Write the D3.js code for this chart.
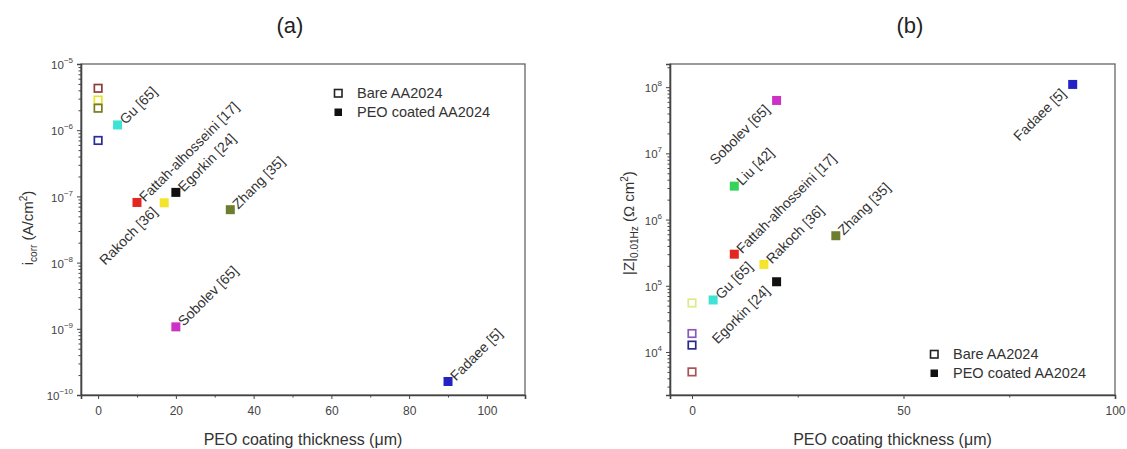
<!DOCTYPE html>
<html><head><meta charset="utf-8">
<script src="https://cdn.jsdelivr.net/npm/d3@7"></script>
<style>
body{margin:0;background:#fff;}
text{font-family:"Liberation Sans",Arial,sans-serif;}
</style></head>
<body><svg id="c" width="1127" height="449"></svg>
<script>
// ---- Data (a): corrosion current density ----
const aLabels = ["Gu [65]","Fattah-alhosseini [17]","Rakoch [36]","Egorkin [24]","Zhang [35]","Sobolev [65]","Fadaee [5]"];
const aThickness = [5, 10, 17, 20, 34, 20, 90];
const aIcorr = [1.2e-6, 8.1e-8, 8e-8, 1.15e-7, 6.3e-8, 1.07e-9, 1.6e-10];
const aBareIcorr = [4.3e-6, 2.85e-6, 2.15e-6, 7e-7];
const aYTicks = [1e-10, 1e-9, 1e-8, 1e-7, 1e-6, 1e-5];
const aXTicks = [0, 20, 40, 60, 80, 100];

// ---- Data (b): low-frequency impedance modulus ----
const bLabels = ["Sobolev [65]","Liu [42]","Fattah-alhosseini [17]","Gu [65]","Rakoch [36]","Egorkin [24]","Zhang [35]","Fadaee [5]"];
const bThickness = [20, 10, 10, 5, 17, 20, 34, 90];
const bImpedance = [6.3e7, 3.2e6, 3e5, 6.1e4, 2.1e5, 1.15e5, 5.7e5, 1.1e8];
const bBareImpedance = [5.5e4, 1.9e4, 1.27e4, 5e3];
const bYTicks = [1e4, 1e5, 1e6, 1e7, 1e8];
const bXTicks = [0, 50, 100];

const legendNames = ["Bare AA2024", "PEO coated AA2024"];

// ---- styles ----
const colorOf = {
  "Gu [65]":"#3ee3d6", "Fattah-alhosseini [17]":"#e3261f", "Rakoch [36]":"#f4e42c",
  "Egorkin [24]":"#111111", "Zhang [35]":"#6e7e30", "Sobolev [65]":"#cc33c4",
  "Fadaee [5]":"#2323c4", "Liu [42]":"#35d35c"
};
const aBareColors = ["#8e3b3b","#e4e430","#7a7a22","#2b2b9a"];
const bBareColors = ["#dfe98a","#8b58b8","#2a2a8c","#a85252"];
// label side: "after" = text starts at point going up-right, "before" = text ends near point
const aSide = ["after","after","before","after","after","after","after"];
const bSide = ["before","after","after","after","after","before","after","before"];

const svg = d3.select("#c");
const axisCol = "#444";

function supText(sel, base, exp){
  sel.text(base);
  sel.append("tspan").attr("dy", -6).attr("font-size", 8).text(exp);
}

function drawPanel(cfg){
  const g = svg.append("g");
  const x = d3.scaleLinear().domain(cfg.xDomain).range([cfg.left, cfg.right]);
  const y = d3.scaleLog().domain(cfg.yDomain).range([cfg.bottom, cfg.top]);

  // frame
  g.append("rect").attr("x", cfg.left).attr("y", cfg.top)
    .attr("width", cfg.right-cfg.left).attr("height", cfg.bottom-cfg.top)
    .attr("fill","none").attr("stroke", "#666").attr("stroke-width", 1.3);

  // x axis
  const xAxis = d3.axisBottom(x).tickValues(cfg.xTicks).tickSize(4).tickFormat(d3.format("d"));
  const xa = g.append("g").attr("transform", `translate(0,${cfg.bottom})`).call(xAxis);
  xa.select(".domain").attr("stroke", axisCol).attr("stroke-width", 1.6);
  xa.selectAll(".tick line").attr("stroke", axisCol);
  xa.selectAll(".tick text").attr("font-size", 12).attr("fill","#444").attr("dy","1.1em")
    .attr("font-family","Liberation Sans, Arial, sans-serif");
  const xMinor = d3.axisBottom(x).tickValues(cfg.xMinor).tickSize(2.5).tickFormat("");
  const xm = g.append("g").attr("transform", `translate(0,${cfg.bottom})`).call(xMinor);
  xm.select(".domain").remove();
  xm.selectAll(".tick line").attr("stroke", axisCol);

  // y axis
  const yAxis = d3.axisLeft(y).tickValues(cfg.yTicks).tickSize(4).tickFormat("");
  const ya = g.append("g").attr("transform", `translate(${cfg.left},0)`).call(yAxis);
  ya.select(".domain").attr("stroke", axisCol).attr("stroke-width", 1.6);
  ya.selectAll(".tick line").attr("stroke", axisCol);
  ya.selectAll(".tick").each(function(d){
    const t = d3.select(this).append("text").attr("x", -8).attr("dy","0.4em")
      .attr("text-anchor","end").attr("font-size", 11.5).attr("fill","#444");
    supText(t, "10", String(Math.round(Math.log10(d))).replace("-", "\u2212"));
  });
  const minors = [];
  const lo = Math.floor(Math.log10(cfg.yDomain[0])), hi = Math.ceil(Math.log10(cfg.yDomain[1]));
  for(let e=lo;e<hi;e++) for(let k=2;k<=9;k++){ const v=k*Math.pow(10,e); if(v>=cfg.yDomain[0]&&v<=cfg.yDomain[1]) minors.push(v); }
  const ym = g.append("g").attr("transform", `translate(${cfg.left},0)`)
    .call(d3.axisLeft(y).tickValues(minors).tickSize(2.5).tickFormat(""));
  ym.select(".domain").remove();
  ym.selectAll(".tick line").attr("stroke", axisCol);

  // titles
  g.append("text").attr("x", cfg.titleX).attr("y", cfg.titleY)
    .attr("text-anchor","middle").attr("font-size", 22).attr("fill","#222").text(cfg.title);
  g.append("text").attr("x", (cfg.left+cfg.right)/2).attr("y", cfg.bottom+50)
    .attr("text-anchor","middle").attr("font-size", 16).attr("fill","#333").text("PEO coating thickness (\u03bcm)");
  const yt = g.append("text").attr("transform", `translate(${cfg.yTitleX},${cfg.yTitleY}) rotate(-90)`)
    .attr("text-anchor","middle").attr("font-size", 15).attr("fill","#333");
  cfg.yTitle(yt);

  // bare points (open squares)
  const s = 7.5;
  g.selectAll(".bare").data(cfg.bare).enter().append("rect")
    .attr("x", d => x(0)-s/2).attr("y", d => y(d)-s/2).attr("width", s).attr("height", s)
    .attr("fill","#fff").attr("stroke", (d,i)=>cfg.bareColors[i]).attr("stroke-width", 1.7);

  // coated points (filled squares)
  const f = 9;
  const pts = cfg.labels.map((l,i)=>({label:l, t:cfg.thick[i], v:cfg.vals[i], side:cfg.side[i]}));
  g.selectAll(".pt").data(pts).enter().append("rect")
    .attr("x", d => x(d.t)-f/2).attr("y", d => y(d.v)-f/2).attr("width", f).attr("height", f)
    .attr("fill", d => colorOf[d.label]);

  g.selectAll(".lab").data(pts).enter().append("text")
    .attr("transform", d => {
      const px = x(d.t), py = y(d.v);
      return d.side==="after" ? `translate(${px+8},${py}) rotate(-45)` : `translate(${px-6},${py+10}) rotate(-45)`;
    })
    .attr("text-anchor", d => d.side==="after" ? "start":"end")
    .attr("font-size", 14).attr("fill","#333").text(d => d.label);

  // legend
  legendNames.forEach((n,i)=>{
    const ly = cfg.legY + i*19;
    const r = g.append("rect").attr("x", cfg.legX-3.5).attr("y", ly-3.5).attr("width", 7.5).attr("height", 7.5);
    if(i===0) r.attr("fill","#fff").attr("stroke","#222").attr("stroke-width",1.6);
    else r.attr("fill","#111");
    g.append("text").attr("x", cfg.legX+19).attr("y", ly).attr("dy","0.36em")
      .attr("font-size", 14.5).attr("fill","#333").text(n);
  });
}

drawPanel({
  title:"(a)", titleX:290, titleY:33, left:81, right:525, top:64, bottom:395,
  xDomain:[-4.4, 109.8], yDomain:[1e-10, 1e-5],
  xTicks:aXTicks, xMinor:[10,30,50,70,90], yTicks:aYTicks,
  yTitleX:33, yTitleY:228,
  yTitle: t => { t.text("i"); t.append("tspan").attr("dy",4).attr("font-size",10).text("corr");
                 t.append("tspan").attr("dy",-4).text(" (A/cm"); t.append("tspan").attr("dy",-6).attr("font-size",10).text("2");
                 t.append("tspan").attr("dy",6).text(")"); },
  bare:aBareIcorr, bareColors:aBareColors,
  labels:aLabels, thick:aThickness, vals:aIcorr, side:aSide,
  legX:338, legY:93
});

drawPanel({
  title:"(b)", titleX:910, titleY:33, left:670, right:1115, top:64, bottom:395,
  xDomain:[-5.2, 100], yDomain:[Math.pow(10,3.35), Math.pow(10,8.35)],
  xTicks:bXTicks, xMinor:[25,75], yTicks:bYTicks,
  yTitleX:634, yTitleY:223,
  yTitle: t => { t.text("|Z|"); t.append("tspan").attr("dy",4).attr("font-size",10).text("0.01Hz");
                 t.append("tspan").attr("dy",-4).text(" (\u03a9 cm"); t.append("tspan").attr("dy",-6).attr("font-size",10).text("2");
                 t.append("tspan").attr("dy",6).text(")"); },
  bare:bBareImpedance, bareColors:bBareColors,
  labels:bLabels, thick:bThickness, vals:bImpedance, side:bSide,
  legX:934, legY:354
});
</script></body></html>
